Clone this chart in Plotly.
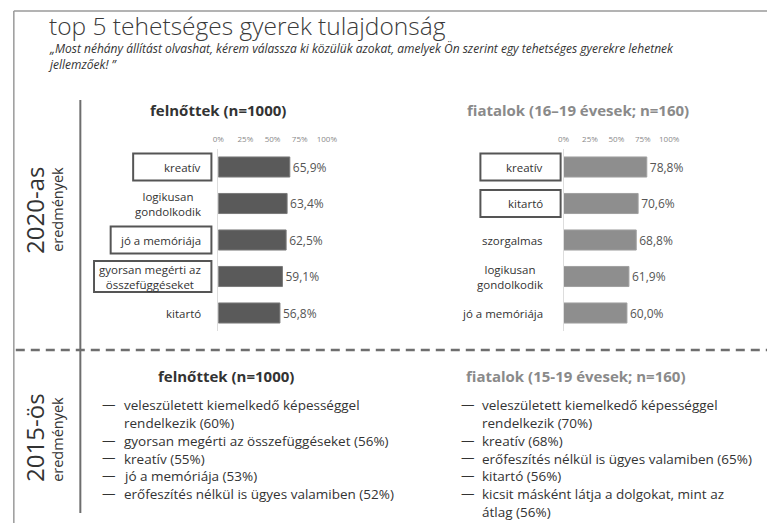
import plotly.graph_objects as go

# ---------------- data ----------------
adult_labels = ["kreatív", "logikusan<br>gondolkodik", "jó a memóriája",
                "gyorsan megérti az<br>összefüggéseket", "kitartó"]
adult_values = [65.9, 63.4, 62.5, 59.1, 56.8]
adult_boxed = [True, False, True, True, False]

youth_labels = ["kreatív", "kitartó", "szorgalmas",
                "logikusan<br>gondolkodik", "jó a memóriája"]
youth_values = [78.8, 70.6, 68.8, 61.9, 60.0]
youth_boxed = [True, True, False, False, False]

tick_values = [0, 25, 50, 75, 100]
tick_labels = ["0%", "25%", "50%", "75%", "100%"]

adult_2015_items = ["veleszületett kiemelkedő képességgel<br>rendelkezik",
                    "gyorsan megérti az összefüggéseket",
                    "kreatív", "jó a memóriája",
                    "erőfeszítés nélkül is ügyes valamiben"]
adult_2015_values = [60, 56, 55, 53, 52]

youth_2015_items = ["veleszületett kiemelkedő képességgel<br>rendelkezik",
                    "kreatív",
                    "erőfeszítés nélkül is ügyes valamiben",
                    "kitartó",
                    "kicsit másként látja a dolgokat, mint az<br>átlag"]
youth_2015_values = [70, 68, 65, 56, 56]

# ---------------- layout helpers ----------------
W, H = 778, 523
FONT = "Open Sans"
DARK = "#333333"


def px(x):
    return x / W


def py(y):
    return 1 - y / H


fig = go.Figure()

cats = list(range(len(adult_values)))
fig.add_trace(go.Bar(
    x=adult_values, y=cats, orientation="h", xaxis="x", yaxis="y",
    width=0.55, marker=dict(color="#5a5a5a", line=dict(color="#7a7a7a", width=1)),
    texttemplate="%{x:.1f}%", textposition="outside",
    textfont=dict(family=FONT, size=12, color="#555555"),
    cliponaxis=False, hoverinfo="skip", showlegend=False))
fig.add_trace(go.Bar(
    x=youth_values, y=cats, orientation="h", xaxis="x2", yaxis="y2",
    width=0.55, marker=dict(color="#8e8e8e", line=dict(color="#a0a0a0", width=1)),
    texttemplate="%{x:.1f}%", textposition="outside",
    textfont=dict(family=FONT, size=12, color="#555555"),
    cliponaxis=False, hoverinfo="skip", showlegend=False))

ydom = [py(331.25), py(148.75)]
xaxis_common = dict(range=[0, 100], side="top", tickvals=tick_values, ticktext=tick_labels,
                    showgrid=False, zeroline=False, showline=False, ticks="",
                    tickfont=dict(family=FONT, size=8, color="#8a8a8a"),
                    ticklabelstandoff=4, fixedrange=True)
yaxis_common = dict(range=[4.5, -0.5], showticklabels=False, showgrid=False, zeroline=False,
                    showline=True, linecolor="#dddddd", linewidth=1, ticks="", domain=ydom,
                    fixedrange=True)

annotations = []
shapes = []

# category labels and boxes
box_left_adult = {0: 130, 2: 107, 3: 90}
box_left_youth = {0: 485, 1: 485}
panels = [
    (adult_labels, adult_boxed, "y", 201, 210, box_left_adult),
    (youth_labels, youth_boxed, "y2", 551, 567, box_left_youth),
]
for labels, boxed, yref, text_right, box_right, box_left in panels:
    for i, lab in enumerate(labels):
        annotations.append(dict(text=lab, x=px(text_right), xref="paper", xanchor="right",
                                y=i, yref=yref, yanchor="middle", align="center",
                                showarrow=False,
                                font=dict(family=FONT, size=11.5, color=DARK)))
        if boxed[i]:
            nlines = lab.count("<br>") + 1
            half = (13.5 if nlines == 1 else 15.5) / 36.5
            shapes.append(dict(type="rect", xref="paper", yref=yref,
                               x0=px(box_left[i]), x1=px(box_right),
                               y0=i - half, y1=i + half,
                               line=dict(color="#555555", width=2)))

# titles
annotations.append(dict(text="top 5 tehetséges gyerek tulajdonság", x=px(42), y=py(25),
                        xref="paper", yref="paper", xanchor="left", yanchor="middle",
                        showarrow=False, font=dict(family=FONT, size=24.5, color="#3a3a3a", weight=300)))
annotations.append(dict(text="<i>„Most néhány állítást olvashat, kérem válassza ki közülük azokat, "
                             "amelyek Ön szerint egy tehetséges gyerekre lehetnek<br>jellemzőek! ”</i>",
                        x=px(42), y=py(56.5), xref="paper", yref="paper", xanchor="left",
                        yanchor="middle", align="left", showarrow=False, borderpad=0,
                        font=dict(family=FONT, size=12, color=DARK)))

# section headers
headers = [
    ("felnőttek (n=1000)", 217, 110, DARK),
    ("fiatalok (16–19 évesek; n=160)", 585, 110, "#8a8a8a"),
    ("felnőttek (n=1000)", 225, 376, DARK),
    ("fiatalok (15-19 évesek; n=160)", 583, 376, "#8a8a8a"),
]
for txt, x, y, col in headers:
    annotations.append(dict(text=f"<b>{txt}</b>", x=px(x), y=py(y), xref="paper", yref="paper",
                            xanchor="center", yanchor="middle", showarrow=False,
                            font=dict(family=FONT, size=15, color=col)))

# rotated period labels
for txt, x, y, size in [("2020-as", 28.5, 210, 24), ("eredmények", 52, 209, 14.5),
                        ("2015-ös", 28.5, 437, 24), ("eredmények", 52, 439, 14.5)]:
    annotations.append(dict(text=txt, x=px(x), y=py(y), xref="paper", yref="paper",
                            xanchor="center", yanchor="middle", textangle=-90,
                            showarrow=False, font=dict(family=FONT, size=size, color=DARK)))

# 2015 bullet lists
LINE = 17.8
for items, vals, dash_x, text_x in [(adult_2015_items, adult_2015_values, 96, 120),
                                    (youth_2015_items, youth_2015_values, 463, 486)]:
    ycur = 404
    for item, v in zip(items, vals):
        nlines = item.count("<br>") + 1
        annotations.append(dict(text="—", x=px(dash_x), y=py(ycur), xref="paper", yref="paper",
                                xanchor="left", yanchor="middle", showarrow=False,
                                font=dict(family=FONT, size=13.5, color=DARK)))
        annotations.append(dict(text=f"{item} ({v}%)", x=px(text_x), y=py(ycur - LINE / 2),
                                xref="paper", yref="paper", xanchor="left", yanchor="top",
                                align="left", showarrow=False, borderpad=0,
                                font=dict(family=FONT, size=13.5, color=DARK)))
        ycur += nlines * LINE

# frame and separators
shapes += [
    dict(type="line", xref="paper", yref="paper", x0=px(8), x1=1, y0=py(11), y1=py(11),
         line=dict(color="#9a9a9a", width=1.5)),
    dict(type="line", xref="paper", yref="paper", x0=px(8), x1=px(8), y0=py(11), y1=0,
         line=dict(color="#9a9a9a", width=1.5)),
    dict(type="line", xref="paper", yref="paper", x0=px(76), x1=px(76), y0=py(100), y1=py(513),
         line=dict(color="#6e6e6e", width=2)),
    dict(type="line", xref="paper", yref="paper", x0=px(10), x1=1, y0=py(350), y1=py(350),
         line=dict(color="#6e6e6e", width=2.5, dash="9px,6px")),
]

fig.update_layout(
    width=W, height=H, margin=dict(l=0, r=0, t=0, b=0),
    paper_bgcolor="white", plot_bgcolor="white",
    separators=", ", bargap=0.45,
    xaxis=dict(domain=[px(217), px(328)], anchor="y", **xaxis_common),
    yaxis=dict(anchor="x", **yaxis_common),
    xaxis2=dict(domain=[px(570), px(678)], anchor="y2", **xaxis_common),
    yaxis2=dict(anchor="x2", **yaxis_common),
    annotations=annotations, shapes=shapes,
    font=dict(family=FONT, color=DARK),
)

fig.write_html("out.html", config={"displayModeBar": False},
               post_script="document.body.style.margin='0';document.body.style.overflow='hidden';")
